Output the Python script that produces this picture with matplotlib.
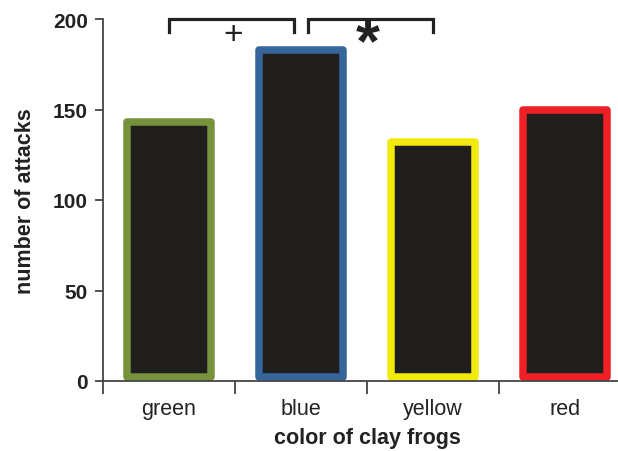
import matplotlib
matplotlib.use('Agg')
import matplotlib.pyplot as plt

# data
colors = ['green', 'blue', 'yellow', 'red']
attacks = [143, 183, 132, 150]
edge_colors = ['#76923a', '#35659b', '#f2ea0c', '#ee2025']

# significance brackets: (left x, right x, label)
brackets = [(0.0, 0.95, '+'), (1.05, 2.0, '*')]
bracket_top = 200
bracket_leg = 193

plt.rcParams['font.family'] = ['Liberation Sans', 'DejaVu Sans']
ink = '#222222'

fig = plt.figure(figsize=(6.18, 4.52), dpi=100)
ax = fig.add_axes([103 / 618, 1 - 382 / 452, 528 / 618, 362 / 452])

# bars: thick coloured edge, outer bottom edge sitting on the axis
lw = 5.4
base = 2.1
x = list(range(len(colors)))
bars = ax.bar(x, [a - base for a in attacks], bottom=base, width=0.633,
              color='#211f1e', edgecolor=edge_colors, linewidth=lw)
for b in bars:
    b.set_joinstyle('round')

ax.set_xlim(-0.5, 3.5)
ax.set_ylim(0, 200)
ax.set_yticks([0, 50, 100, 150, 200])
ax.set_yticklabels(['0', '50', '100', '150', '200'], fontsize=15, fontweight='bold', color=ink)

# ticks sit between the categories, labels centred under bars
ax.set_xticks([-0.5, 0.5, 1.5, 2.5])
ax.set_xticklabels([])
ax.set_xticks(x, minor=True)
ax.set_xticklabels(colors, minor=True, fontsize=15.5, color=ink)
ax.tick_params(axis='x', which='major', length=9, width=1.3, color='#444444', direction='out')
ax.tick_params(axis='x', which='minor', length=0, pad=12)
ax.tick_params(axis='y', length=6, width=1.3, color='#444444', pad=5)

for side in ['top', 'right']:
    ax.spines[side].set_visible(False)
for side in ['left', 'bottom']:
    ax.spines[side].set_color('#444444')
    ax.spines[side].set_linewidth(1.3)

ax.set_ylabel('number of attacks', fontsize=15.5, fontweight='bold', color=ink, labelpad=12)
ax.set_xlabel('color of clay frogs', fontsize=15.5, fontweight='bold', color=ink, labelpad=6)

# significance brackets
for x0, x1, lab in brackets:
    ax.plot([x0, x0, x1, x1], [bracket_leg, bracket_top, bracket_top, bracket_leg],
            color=ink, linewidth=2.3, clip_on=False, solid_joinstyle='miter')
    if lab == '*':
        ax.text((x0 + x1) / 2 - 0.02, 186, lab, ha='center', va='center', fontsize=44,
                fontweight='bold', color=ink, clip_on=False)
    else:
        ax.text((x0 + x1) / 2 + 0.01, 191.5, lab, ha='center', va='center', fontsize=24,
                color=ink, clip_on=False)

fig.savefig('out.png', dpi=100)
